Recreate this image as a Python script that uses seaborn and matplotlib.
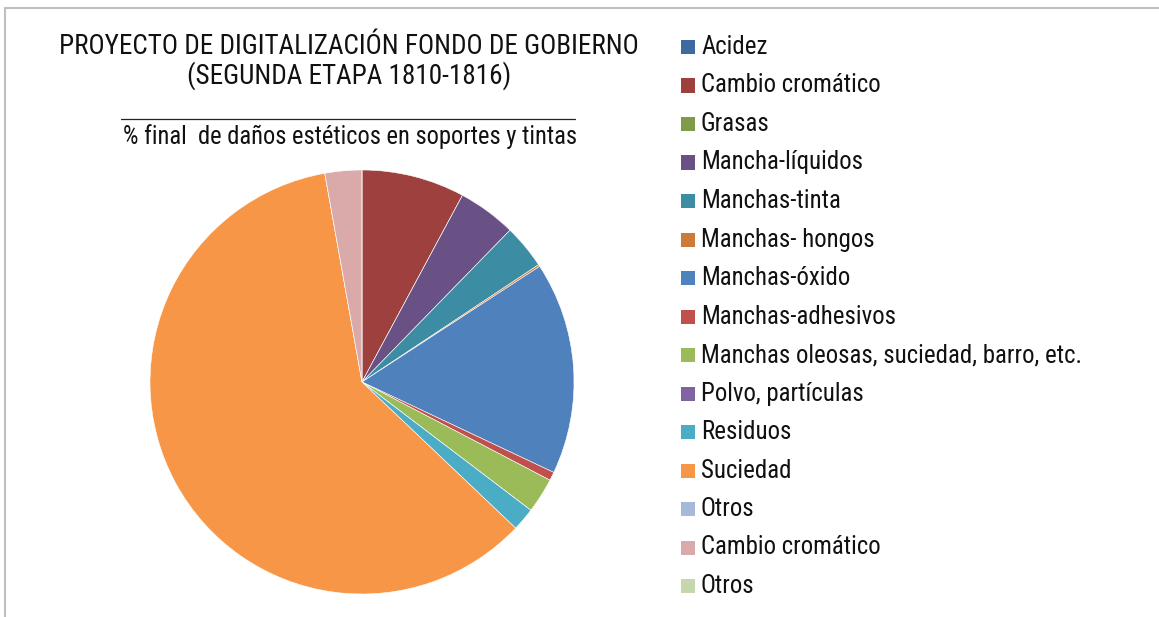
import matplotlib
matplotlib.use("Agg")
import matplotlib.pyplot as plt
from matplotlib import font_manager
from matplotlib.lines import Line2D
from matplotlib.patches import Rectangle
import seaborn as sns

# Damage categories and their final share (%)
categories = [
    "Acidez", "Cambio cromático", "Grasas", "Mancha-líquidos", "Manchas-tinta",
    "Manchas- hongos", "Manchas-óxido", "Manchas-adhesivos",
    "Manchas oleosas, suciedad, barro, etc.", "Polvo, partículas", "Residuos",
    "Suciedad", "Otros", "Cambio cromático", "Otros",
]
values = [0.0, 7.86, 0.0, 4.44, 3.37, 0.15, 16.2, 0.65, 2.68, 0.0, 1.76,
          60.1, 0.0, 2.81, 0.0]
colors = [
    "#3E6AA0", "#9E413E", "#7F9A48", "#695185", "#3C8DA3", "#CC7B38",
    "#4F81BD", "#C0504D", "#9BBB59", "#8064A2", "#4BACC6", "#F79646",
    "#A7B9D8", "#D9AAA9", "#C6D7AD",
]

title_lines = ["PROYECTO DE DIGITALIZACIÓN FONDO DE GOBIERNO",
               "(SEGUNDA ETAPA 1810-1816)"]
subtitle = "% final  de daños estéticos en soportes y tintas"

sns.set_theme(style="white")

installed = {f.name for f in font_manager.fontManager.ttflist}
if "Liberation Sans Narrow" in installed:
    family = ["Liberation Sans Narrow", "DejaVu Sans"]
    fs_title, fs_sub, fs_leg = 17.5, 17.5, 17.5
elif "Roboto Condensed" in installed:
    family = ["Roboto Condensed", "DejaVu Sans"]
    fs_title, fs_sub, fs_leg = 19.5, 17.65, 17.9
else:
    family = ["Liberation Sans", "DejaVu Sans"]
    fs_title, fs_sub, fs_leg = 15.7, 15.7, 15.7
plt.rcParams["font.family"] = family

W, H = 1159, 617
fig = plt.figure(figsize=(W / 100, H / 100), dpi=100)
fig.patch.set_facecolor("white")

# pie axes: centre (362, 382), radius 212 px
cx, cy, r = 362, 382, 212
ax = fig.add_axes([(cx - r) / W, 1 - (cy + r) / H, 2 * r / W, 2 * r / H])
ax.pie(values, colors=colors, startangle=90, counterclock=False,
       radius=1.0, wedgeprops=dict(edgecolor="white", linewidth=0.4))
ax.set_xlim(-1, 1)
ax.set_ylim(-1, 1)
ax.set_aspect("equal")
ax.axis("off")

# titles
tx = 349 / W
fig.text(tx, 1 - 46 / H, title_lines[0], ha="center", va="center",
         fontsize=fs_title, color="#111111")
fig.text(tx, 1 - 76 / H, title_lines[1], ha="center", va="center",
         fontsize=fs_title, color="#111111")
fig.add_artist(Line2D([121 / W, 575 / W], [1 - 119 / H, 1 - 119 / H],
                      color="#222222", linewidth=0.9))
fig.text(350 / W, 1 - 137 / H, subtitle, ha="center", va="center",
         fontsize=fs_sub, color="#111111")

# legend, drawn row by row
row0, step = 47, 38.5
for i, (lab, col) in enumerate(zip(categories, colors)):
    y = 1 - (row0 + i * step) / H
    fig.add_artist(Rectangle((681 / W, y - 7 / H), 14 / W, 14 / H,
                             facecolor=col, edgecolor="none",
                             transform=fig.transFigure))
    fig.text(701 / W, y, lab, ha="left", va="center",
             fontsize=fs_leg, color="#111111")

# chart frame (top and left edges visible)
frame = dict(color="#BFBFBF", linewidth=1.5)
fig.add_artist(Line2D([4.5 / W, 1.0], [1 - 8 / H, 1 - 8 / H], **frame))
fig.add_artist(Line2D([4.5 / W, 4.5 / W], [0.0, 1 - 8 / H], **frame))

fig.savefig("out.png", dpi=100, facecolor="white")
